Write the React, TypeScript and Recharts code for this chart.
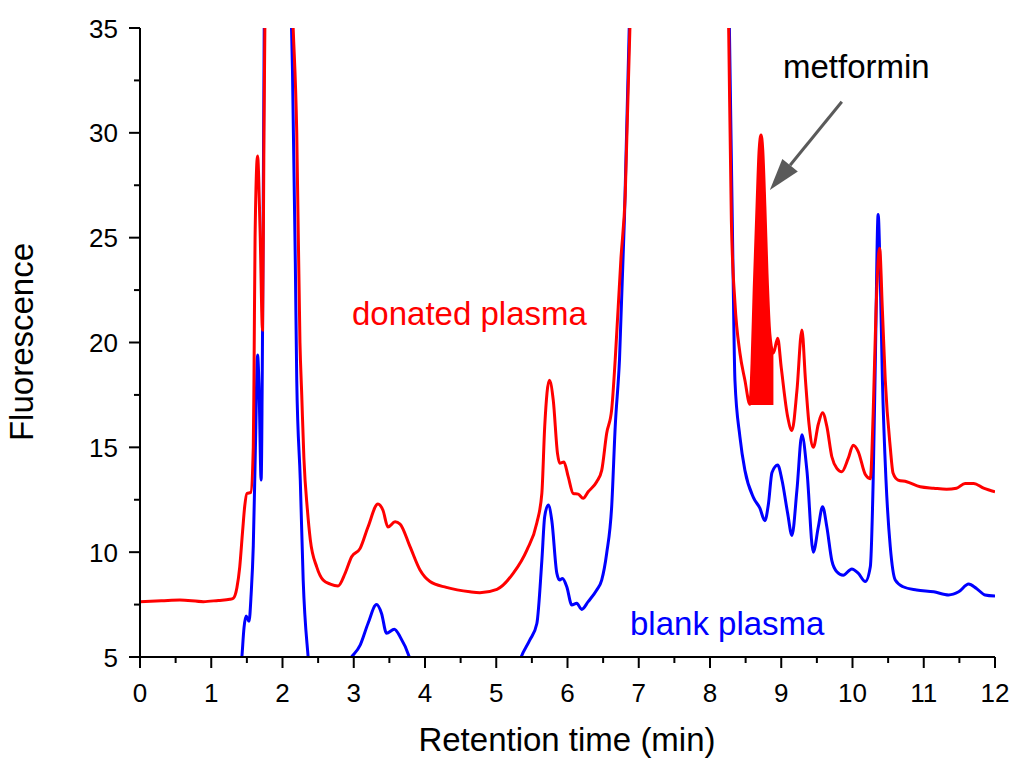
import React from 'react';
import { ComposedChart, Line, Area, XAxis, YAxis, ReferenceLine } from 'recharts';

// [retention time (min), fluorescence]
const donatedPlasma: [number, number][] = [
  [0, 7.64], [0.3, 7.68], [0.56, 7.72], [0.89, 7.64], [1.1, 7.7], [1.26, 7.75], [1.31, 7.8],
  [1.36, 8.3], [1.4, 9.3], [1.44, 11.0], [1.47, 12.2], [1.5, 12.8], [1.555, 12.85], [1.59, 15.0],
  [1.6, 18.4], [1.615, 25.0], [1.65, 28.9], [1.685, 25.4], [1.72, 20.6], [1.74, 30], [1.755, 36],
  [1.8, 60], [2.0, 60], [2.14, 36], [2.2, 30], [2.245, 20], [2.27, 17.5], [2.3, 14.5], [2.35, 12.0],
  [2.39, 10.6], [2.48, 9.3], [2.57, 8.67], [2.67, 8.48], [2.78, 8.39], [2.88, 9.0], [2.97, 9.78],
  [3.09, 10.18], [3.2, 11.2], [3.34, 12.3], [3.41, 12.0], [3.48, 11.2], [3.58, 11.45], [3.65, 11.34],
  [3.79, 10.26], [3.93, 9.15], [4.07, 8.6], [4.3, 8.32], [4.63, 8.11], [4.77, 8.07], [5.01, 8.23],
  [5.24, 9.0], [5.43, 10.1], [5.57, 11.4], [5.64, 12.8], [5.68, 15.98], [5.745, 18.2], [5.8, 17.25],
  [5.86, 14.7], [5.89, 14.24], [5.95, 14.3], [6.01, 13.6], [6.08, 12.8], [6.15, 12.77], [6.22, 12.57],
  [6.29, 12.88], [6.41, 13.36], [6.48, 13.9], [6.55, 15.67], [6.62, 16.8], [6.67, 19.2], [6.75, 24],
  [6.81, 27], [6.88, 35.5], [7.0, 60], [8.1, 60], [8.26, 35.5], [8.3, 25.8], [8.35, 21.9],
  [8.42, 19.5], [8.49, 18.2], [8.56, 17.05], [8.59, 19], [8.62, 22.5], [8.66, 26.5], [8.69, 29.2],
  [8.716, 29.9], [8.74, 29.2], [8.77, 26.5], [8.8, 23.3], [8.84, 20.4], [8.89, 19.5], [8.95, 20.2],
  [9.0, 18.8], [9.09, 16.46], [9.15, 15.8], [9.22, 17.7], [9.29, 20.6], [9.34, 18.2], [9.39, 16.1],
  [9.45, 15.0], [9.52, 16.1], [9.58, 16.65], [9.64, 16.0], [9.71, 14.55], [9.78, 14.0], [9.85, 13.84],
  [9.94, 14.47], [10.01, 15.1], [10.08, 14.8], [10.18, 13.7], [10.25, 13.5], [10.29, 16.6],
  [10.33, 21.5], [10.38, 24.5], [10.42, 21.5], [10.46, 18.2], [10.53, 15.0], [10.57, 13.76],
  [10.64, 13.44], [10.76, 13.36], [10.95, 13.12], [11.14, 13.05], [11.32, 13.0], [11.46, 13.05],
  [11.58, 13.28], [11.7, 13.28], [11.84, 13.05], [12, 12.88],
];

const blankPlasma: [number, number][] = [
  [1.4, 3.8], [1.43, 5.0], [1.46, 6.4], [1.49, 6.95], [1.53, 6.7], [1.56, 8.0], [1.59, 10.3],
  [1.62, 15], [1.65, 19.4], [1.67, 18], [1.7, 13.44], [1.72, 20.6], [1.735, 30], [1.745, 36],
  [1.8, 60], [2.0, 60], [2.12, 36], [2.14, 33], [2.18, 23.8], [2.2, 18.2], [2.25, 13.4], [2.29, 8.7],
  [2.36, 5.0], [2.4, 3.5], [2.6, 3.5], [2.97, 5.0], [3.09, 5.57], [3.2, 6.6], [3.32, 7.5],
  [3.39, 7.08], [3.46, 6.13], [3.57, 6.32], [3.65, 5.97], [3.78, 5.0], [3.85, 4.2], [4.5, 3.5],
  [5.3, 4.5], [5.35, 5.0], [5.47, 5.8], [5.57, 6.6], [5.64, 9.6], [5.68, 11.7], [5.73, 12.25],
  [5.78, 11.5], [5.85, 9.0], [5.89, 8.67], [5.93, 8.75], [5.99, 8.35], [6.06, 7.48], [6.13, 7.56],
  [6.2, 7.27], [6.29, 7.64], [6.41, 8.2], [6.48, 8.67], [6.55, 9.95], [6.62, 12.17], [6.67, 16],
  [6.73, 19.2], [6.8, 26], [6.87, 35.5], [7.0, 60], [8.1, 60], [8.27, 35.5], [8.32, 24.2],
  [8.35, 18.2], [8.42, 15.5], [8.49, 13.9], [8.61, 12.6], [8.7, 12.1], [8.77, 11.5], [8.82, 12.3],
  [8.87, 13.8], [8.95, 14.16], [9.01, 13.44], [9.09, 11.85], [9.15, 10.8], [9.22, 12.96],
  [9.29, 15.6], [9.36, 13.9], [9.45, 10.0], [9.52, 11.2], [9.58, 12.17], [9.64, 11.2], [9.71, 9.6],
  [9.78, 9.07], [9.87, 8.9], [9.99, 9.2], [10.08, 9.0], [10.18, 8.6], [10.25, 9.3], [10.29, 13.4],
  [10.32, 19], [10.36, 26.1], [10.39, 23], [10.42, 18.2], [10.47, 13.44], [10.53, 10.26],
  [10.6, 8.67], [10.71, 8.35], [10.9, 8.2], [11.14, 8.11], [11.35, 7.96], [11.49, 8.11],
  [11.63, 8.48], [11.74, 8.27], [11.86, 7.96], [12, 7.91],
];

// shaded metformin peak: time window and baseline
const metforminWindow = [8.56, 8.89];
const metforminBase = 17.02;
// arrow: from label down to the peak
const arrowFrom = { x: 9.85, y: 31.48 };
const arrowTo = { x: 8.84, y: 27.27 };

const xTicks = [0, 0.5, 1, 1.5, 2, 2.5, 3, 3.5, 4, 4.5, 5, 5.5, 6, 6.5, 7, 7.5, 8, 8.5, 9, 9.5, 10, 10.5, 11, 11.5, 12];
const yTicks = [5, 7.5, 10, 12.5, 15, 17.5, 20, 22.5, 25, 27.5, 30, 32.5, 35];

const FONT = '"Liberation Sans", Arial, Helvetica, sans-serif';

const redData = donatedPlasma.map(([t, v]) => ({ t, v }));
const blueData = blankPlasma.map(([t, v]) => ({ t, v }));
const metFill = donatedPlasma
  .filter(([t]) => t >= metforminWindow[0] && t <= metforminWindow[1])
  .map(([t, v]) => ({ t, band: [metforminBase, v] }));

const XTick = (props: any) => {
  const { x, y, payload } = props;
  const v = payload.value;
  const major = Number.isInteger(v);
  return (
    <g>
      <line x1={x} x2={x} y1={y} y2={y + (major ? 11 : 6)} stroke="#000" strokeWidth={2} />
      {major && (
        <text x={x} y={y + 45} textAnchor="middle" fontSize={26} fontFamily={FONT} fill="#000">
          {v}
        </text>
      )}
    </g>
  );
};

const YTick = (props: any) => {
  const { x, y, payload } = props;
  const v = payload.value;
  const major = v % 5 === 0;
  return (
    <g>
      <line x1={x} x2={x - (major ? 11 : 6)} y1={y} y2={y} stroke="#000" strokeWidth={2} />
      {major && (
        <text x={x - 22} y={y + 9.5} textAnchor="end" fontSize={26} fontFamily={FONT} fill="#000">
          {v}
        </text>
      )}
    </g>
  );
};

const ArrowShape = (props: any) => {
  const { x1, y1, x2, y2 } = props;
  const dx = x2 - x1;
  const dy = y2 - y1;
  const len = Math.sqrt(dx * dx + dy * dy) || 1;
  const ux = dx / len;
  const uy = dy / len;
  const head = 32;
  const half = 10;
  const bx = x2 - ux * head;
  const by = y2 - uy * head;
  return (
    <g>
      <line x1={x1} y1={y1} x2={bx} y2={by} stroke="#5a5a5a" strokeWidth={3} />
      <polygon
        points={`${x2},${y2} ${bx - uy * half},${by + ux * half} ${bx + uy * half},${by - ux * half}`}
        fill="#5a5a5a"
      />
    </g>
  );
};

const textStyle: React.CSSProperties = { fontFamily: FONT, fontSize: 33 };

export default function App() {
  return (
    <div style={{ position: 'absolute', left: 0, top: 0, width: 1011, height: 760, background: '#fff' }}>
      <ComposedChart width={1011} height={760} margin={{ top: 28, right: 16, bottom: 0, left: 0 }}>
        <XAxis
          dataKey="t"
          type="number"
          domain={[0, 12]}
          allowDataOverflow
          ticks={xTicks}
          interval={0}
          height={103}
          tickSize={0}
          tickMargin={0}
          axisLine={{ stroke: '#000', strokeWidth: 2 }}
          tickLine={false}
          tick={<XTick />}
        />
        <YAxis
          type="number"
          domain={[5, 35]}
          allowDataOverflow
          ticks={yTicks}
          interval={0}
          width={140}
          tickSize={0}
          tickMargin={0}
          axisLine={{ stroke: '#000', strokeWidth: 2 }}
          tickLine={false}
          tick={<YTick />}
        />
        <Area
          data={metFill}
          dataKey="band"
          type="monotone"
          stroke="none"
          fill="#ff0000"
          fillOpacity={1}
          isAnimationActive={false}
        />
        <Line
          data={blueData}
          dataKey="v"
          type="monotone"
          stroke="#0000ff"
          strokeWidth={3}
          dot={false}
          activeDot={false}
          isAnimationActive={false}
        />
        <Line
          data={redData}
          dataKey="v"
          type="monotone"
          stroke="#ff0000"
          strokeWidth={3}
          dot={false}
          activeDot={false}
          isAnimationActive={false}
        />
        <ReferenceLine segment={[arrowFrom, arrowTo]} shape={<ArrowShape />} />
      </ComposedChart>
      <svg
        width={1011}
        height={760}
        style={{ position: 'absolute', left: 0, top: 0, pointerEvents: 'none' }}
      >
        <text x={352} y={325} fill="#ff0000" style={textStyle}>donated plasma</text>
        <text x={630} y={635} fill="#0000ff" style={textStyle}>blank plasma</text>
        <text x={783} y={78} fill="#000" style={textStyle}>metformin</text>
        <text x={567} y={751} textAnchor="middle" fill="#000" style={textStyle}>Retention time (min)</text>
        <text x={33} y={342} textAnchor="middle" transform="rotate(-90, 33, 342)" fill="#000" style={textStyle}>
          Fluorescence
        </text>
      </svg>
    </div>
  );
}
